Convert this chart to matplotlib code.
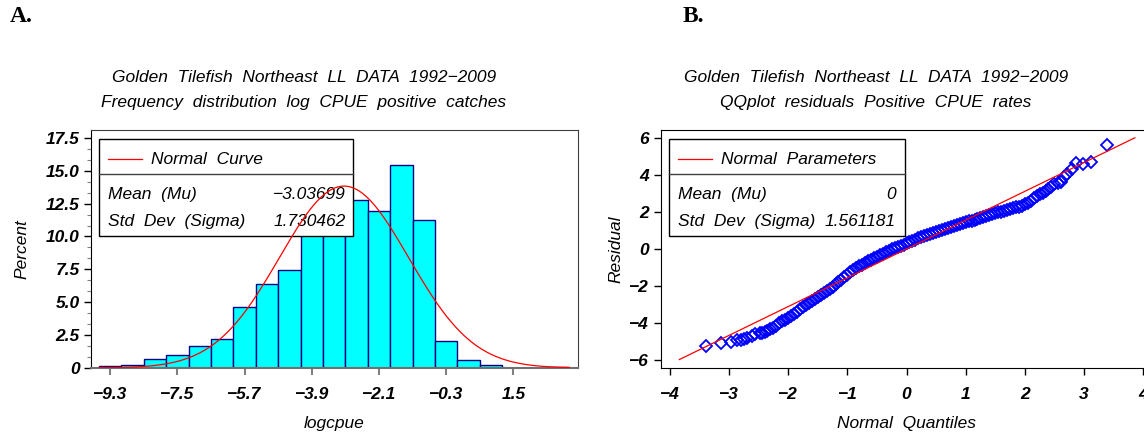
import numpy as np
import matplotlib
matplotlib.use('Agg')
import matplotlib.pyplot as plt
from matplotlib.patches import Rectangle
from matplotlib.ticker import FixedLocator, FuncFormatter

plt.rcParams['font.family'] = ['Liberation Sans', 'DejaVu Sans']
plt.rcParams['axes.unicode_minus'] = True

# --- panel A: histogram of log CPUE ---
bin_centers = [-9.3, -8.7, -8.1, -7.5, -6.9, -6.3, -5.7, -5.1, -4.5, -3.9, -3.3,
               -2.7, -2.1, -1.5, -0.9, -0.3, 0.3, 0.9, 1.5, 2.1, 2.7]
percent = [0.12, 0.25, 0.66, 1.0, 1.65, 2.23, 4.64, 6.4, 7.45, 10.9, 10.9,
           12.8, 11.9, 15.45, 11.26, 2.08, 0.63, 0.23, 0.0, 0.0, 0.08]
bin_width = 0.6
mu_a = -3.03699
sigma_a = 1.730462
xticks_a = [-9.3, -7.5, -5.7, -3.9, -2.1, -0.3, 1.5]
yticks_a = [0, 2.5, 5.0, 7.5, 10.0, 12.5, 15.0, 17.5]

# --- panel B: QQ plot of residuals ---
quantiles = [-3.39, -3.13, -2.97, -2.87, -2.79, -2.75, -2.69, -2.62, -2.56, -2.48, -2.44,
             -2.40, -2.35, -2.30, -2.25, -2.20, -2.15, -2.10, -2.05, -2.00, -1.95,
             -1.90, -1.85, -1.80, -1.75, -1.70, -1.65, -1.60, -1.55, -1.50, -1.45,
             -1.40, -1.35, -1.30, -1.25, -1.20, -1.15, -1.10, -1.05, -1.00, -0.95,
             -0.90, -0.85, -0.80, -0.75, -0.70, -0.65, -0.60, -0.55, -0.50, -0.45,
             -0.40, -0.35, -0.30, -0.25, -0.20, -0.15, -0.10, -0.05, 0.00, 0.05,
             0.10, 0.15, 0.20, 0.25, 0.30, 0.35, 0.40, 0.45, 0.50, 0.55,
             0.60, 0.65, 0.70, 0.75, 0.80, 0.85, 0.90, 0.95, 1.00, 1.05,
             1.10, 1.15, 1.20, 1.25, 1.30, 1.35, 1.40, 1.45, 1.50, 1.55,
             1.60, 1.65, 1.70, 1.75, 1.80, 1.85, 1.90, 1.95, 2.00, 2.05,
             2.10, 2.15, 2.20, 2.25, 2.30, 2.35, 2.40,
             2.45, 2.50, 2.56, 2.62, 2.67, 2.71, 2.79, 2.87, 2.98, 3.12, 3.39]
residuals = [-5.26, -5.10, -5.04, -4.96, -4.92, -4.88, -4.83, -4.70, -4.60, -4.56, -4.54,
             -4.52, -4.45, -4.36, -4.26, -4.15, -4.04, -3.93, -3.84, -3.74, -3.63,
             -3.52, -3.39, -3.26, -3.15, -3.04, -2.92, -2.80, -2.70, -2.60, -2.51,
             -2.41, -2.29, -2.17, -2.04, -1.90, -1.78, -1.66, -1.53, -1.40, -1.27,
             -1.15, -1.05, -0.95, -0.85, -0.76, -0.67, -0.58, -0.49, -0.41, -0.33,
             -0.25, -0.17, -0.09, -0.01, 0.06, 0.12, 0.18, 0.24, 0.30, 0.37,
             0.44, 0.51, 0.58, 0.64, 0.70, 0.76, 0.82, 0.87, 0.93, 0.98,
             1.04, 1.09, 1.14, 1.19, 1.24, 1.29, 1.34, 1.39, 1.44, 1.49,
             1.54, 1.59, 1.64, 1.69, 1.74, 1.79, 1.84, 1.89, 1.94, 1.98,
             2.03, 2.07, 2.12, 2.16, 2.21, 2.25, 2.30, 2.35, 2.42, 2.51,
             2.62, 2.74, 2.86, 2.96, 3.06, 3.15, 3.25,
             3.37, 3.51, 3.58, 3.64, 3.91, 4.05, 4.31, 4.66, 4.63, 4.69, 5.62]
mu_b = 0
sigma_b = 1.561181
xticks_b = [-4, -3, -2, -1, 0, 1, 2, 3, 4]
yticks_b = [-6, -4, -2, 0, 2, 4, 6]

TEXTFONT = dict(fontsize=12.5, fontstyle='italic')


def style_ticklabels(ax):
    for lab in ax.get_xticklabels() + ax.get_yticklabels():
        lab.set_fontsize(12.5)
        lab.set_fontweight('bold')
        lab.set_fontstyle('italic')


def draw_legend(ax, x0, x1, line_label, rows, val_x):
    # legend box with a divider, drawn in axes coords
    box = Rectangle((x0, 0.553), x1 - x0, 0.962 - 0.553, transform=ax.transAxes,
                    facecolor='white', edgecolor='black', lw=1.0, zorder=5)
    ax.add_patch(box)
    ax.plot([x0, x1], [0.817, 0.817], transform=ax.transAxes, color='#404040',
            lw=1.0, zorder=6)
    ax.plot([x0 + 0.019, x0 + 0.088], [0.876, 0.876], transform=ax.transAxes,
            color='red', lw=0.9, zorder=6)
    ax.text(x0 + 0.106, 0.876, line_label, transform=ax.transAxes, va='center',
            ha='left', zorder=6, **TEXTFONT)
    for (lab, val), yy in zip(rows, [0.73, 0.617]):
        ax.text(x0 + 0.019, yy, lab, transform=ax.transAxes, va='center',
                ha='left', zorder=7, **TEXTFONT)
        ax.text(val_x, yy, val, transform=ax.transAxes, va='center',
                ha='right', zorder=7, **TEXTFONT)


fig = plt.figure(figsize=(11.44, 4.37), dpi=100)

# ---------------- panel A ----------------
ax1 = fig.add_axes([0.0793, 0.158, 0.426, 0.5446])
ax1.bar(bin_centers, percent, width=bin_width, color='#00FFFF',
        edgecolor='#000080', linewidth=1.0, zorder=2)
xc = np.linspace(bin_centers[0] - bin_width / 2, bin_centers[-1] + bin_width / 2, 400)
yc = 100 * bin_width * np.exp(-0.5 * ((xc - mu_a) / sigma_a) ** 2) / (sigma_a * np.sqrt(2 * np.pi))
ax1.plot(xc, yc, color='red', lw=0.9, zorder=8)
ax1.set_xlim(-9.82, 3.23)
ax1.set_ylim(0, 18.1)
ax1.xaxis.set_major_locator(FixedLocator(xticks_a))
ax1.yaxis.set_major_locator(FixedLocator(yticks_a))
ax1.yaxis.set_minor_locator(FixedLocator(np.arange(0, 18.0, 2.5 / 3)))
ax1.yaxis.set_major_formatter(FuncFormatter(lambda v, p: '0' if v == 0 else '%.1f' % v))
ax1.xaxis.set_major_formatter(FuncFormatter(lambda v, p: ('%.1f' % v).replace('-', '\u2212')))
ax1.tick_params(axis='x', direction='out', length=5, width=1.5, color='#808080', pad=9)
ax1.tick_params(axis='y', which='major', direction='out', length=5, width=1.0, pad=3)
ax1.tick_params(axis='y', which='minor', direction='out', length=3, width=0.8, color='#808080')
style_ticklabels(ax1)
ax1.spines['left'].set_color('black')
ax1.spines['bottom'].set_color('#707070')
ax1.spines['bottom'].set_linewidth(1.5)
ax1.spines['top'].set_color('#404040')
ax1.spines['right'].set_color('#404040')
ax1.set_ylabel('Percent', labelpad=12, **TEXTFONT)
ax1.set_xlabel('logcpue', labelpad=10, **TEXTFONT)
draw_legend(ax1, 0.0167, 0.539, 'Normal  Curve',
            [('Mean  (Mu)', '\u22123.03699'), ('Std  Dev  (Sigma)', '1.730462')], 0.524)

# ---------------- panel B ----------------
ax2 = fig.add_axes([0.5778, 0.158, 0.4292, 0.5446])
ax2.plot(quantiles, residuals, linestyle='none', marker='D', markersize=6,
         markerfacecolor='none', markeredgecolor='#0000FF', markeredgewidth=1.3, zorder=3)
xl = np.array([-3.84, 3.86])
ax2.plot(xl, mu_b + sigma_b * xl, color='red', lw=0.9, zorder=4)
ax2.set_xlim(-4.15, 4.15)
ax2.set_ylim(-6.45, 6.45)
ax2.xaxis.set_major_locator(FixedLocator(xticks_b))
ax2.yaxis.set_major_locator(FixedLocator(yticks_b))
ax2.tick_params(axis='both', direction='out', length=5, width=1.0)
ax2.tick_params(axis='x', pad=9)
style_ticklabels(ax2)
ax2.set_ylabel('Residual', labelpad=4, **TEXTFONT)
ax2.set_xlabel('Normal  Quantiles', labelpad=10, **TEXTFONT)
draw_legend(ax2, 0.0154, 0.496, 'Normal  Parameters',
            [('Mean  (Mu)', '0'), ('Std  Dev  (Sigma)', '1.561181')], 0.478)

# ---------------- titles and panel letters ----------------
fig.text(304 / 1144, 1 - 77 / 437, 'Golden  Tilefish  Northeast  LL  DATA  1992\u22122009',
         ha='center', va='center', **TEXTFONT)
fig.text(304 / 1144, 1 - 103 / 437, 'Frequency  distribution  log  CPUE  positive  catches',
         ha='center', va='center', **TEXTFONT)
fig.text(876 / 1144, 1 - 77 / 437, 'Golden  Tilefish  Northeast  LL  DATA  1992\u22122009',
         ha='center', va='center', **TEXTFONT)
fig.text(876 / 1144, 1 - 103 / 437, 'QQplot  residuals  Positive  CPUE  rates',
         ha='center', va='center', **TEXTFONT)
fig.text(10 / 1144, 1 - 17 / 437, 'A.', ha='left', va='center', fontsize=17,
         fontweight='bold', family=['Liberation Serif', 'DejaVu Serif'])
fig.text(683 / 1144, 1 - 17 / 437, 'B.', ha='left', va='center', fontsize=17,
         fontweight='bold', family=['Liberation Serif', 'DejaVu Serif'])

fig.savefig('out.png', dpi=100)
